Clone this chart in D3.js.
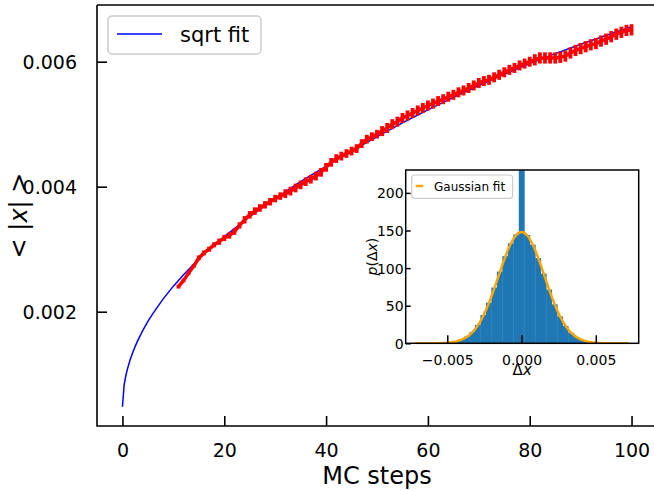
<!DOCTYPE html>
<meta charset="utf-8">
<style>
body { margin: 0; background: #fff; }
text { font-family: "DejaVu Sans", sans-serif; fill: #000; }
</style>
<body>
<script src="https://d3js.org/d3.v7.min.js"></script>
<script>

// ---- main panel data ----
var mcSteps = [11,12,13,14,15,16,17,18,19,20,21,22,23,24,25,26,27,28,29,30,
  31,32,33,34,35,36,37,38,39,40,41,42,43,44,45,46,47,48,49,50,
  51,52,53,54,55,56,57,58,59,60,61,62,63,64,65,66,67,68,69,70,
  71,72,73,74,75,76,77,78,79,80,81,82,83,84,85,86,87,88,89,90,
  91,92,93,94,95,96,97,98,99,100];
var meanAbsX = [0.00240,0.00250,0.00262,0.00273,0.00286,0.00294,0.00300,0.00307,0.00312,0.00318,
  0.00322,0.00328,0.00338,0.00347,0.00355,0.00361,0.00366,0.00371,0.00376,0.00381,
  0.00385,0.00389,0.00393,0.00398,0.00403,0.00408,0.00412,0.00417,0.00423,0.00431,
  0.00439,0.00445,0.00449,0.00453,0.00457,0.00461,0.00469,0.00476,0.00480,0.00484,
  0.00489,0.00494,0.00500,0.00504,0.00510,0.00514,0.00518,0.00522,0.00526,0.00530,
  0.00533,0.00537,0.00540,0.00544,0.00547,0.00551,0.00554,0.00558,0.00562,0.00566,
  0.00569,0.00571,0.00575,0.00579,0.00583,0.00587,0.00590,0.00594,0.00597,0.00600,
  0.00603,0.00606,0.00606,0.00606,0.00606,0.00607,0.00609,0.00614,0.00618,0.00621,
  0.00624,0.00627,0.00629,0.00633,0.00636,0.00640,0.00644,0.00647,0.00650,0.00651];
var meanErr = [0.00003,0.00003,0.00003,0.00003,0.00004,0.00004,0.00004,0.00004,0.00005,0.00005,
  0.00005,0.00005,0.00005,0.00006,0.00006,0.00006,0.00006,0.00006,0.00006,0.00006,
  0.00006,0.00007,0.00007,0.00007,0.00007,0.00007,0.00007,0.00007,0.00007,0.00007,
  0.00007,0.00007,0.00007,0.00007,0.00007,0.00007,0.00007,0.00007,0.00007,0.00007,
  0.00008,0.00008,0.00008,0.00008,0.00008,0.00008,0.00008,0.00008,0.00008,0.00008,
  0.00008,0.00008,0.00008,0.00008,0.00008,0.00008,0.00008,0.00008,0.00008,0.00008,
  0.00008,0.00008,0.00008,0.00008,0.00008,0.00008,0.00008,0.00008,0.00008,0.00008,
  0.00009,0.00009,0.00009,0.00009,0.00009,0.00009,0.00009,0.00009,0.00009,0.00009,
  0.00009,0.00009,0.00009,0.00009,0.00009,0.00009,0.00009,0.00009,0.00009,0.00009];

// sqrt fit curve
var fitT = [0,0.33,0.67,1,1.5,2,2.5,3,4,5,6,8,10,12,14,16,18,20,25,30,35,40,45,50,55,60,65,70,75,80,85,90,95,100];
var fitY = [0.00048,0.00083,0.000979,0.00109,0.001227,0.001343,0.001445,0.001537,0.0017,0.001844,
  0.001974,0.002205,0.002409,0.00259,0.00276,0.00292,0.00306,0.0032,0.00352,0.00381,
  0.00408,0.00433,0.00457,0.0048,0.00502,0.00523,0.00543,0.00562,0.0058,0.00597,
  0.00613,0.00628,0.00642,0.00656];

var xTicks = [0, 20, 40, 60, 80, 100];
var yTicks = [0.002, 0.004, 0.006];

// ---- inset data ----
var histRange = [-0.0072, 0.0072];
var histCounts = [0,0,0.05,0.1,0.3,0.7,1.3,2.6,4.9,8.9,15.1,24.4,37.5,54.0,74.1,95.4,115.8,132.9,144.6,
  280,
  144.0,131.2,113.4,92.6,71.4,51.8,35.6,23.0,14.1,8.1,4.4,2.3,1.1,0.5,0.2,0.1,0.03,0,0];
var gaussX = [-0.0072,-0.0068,-0.0064,-0.006,-0.0056,-0.0052,-0.0048,-0.0044,-0.004,-0.0036,
  -0.0032,-0.0028,-0.0024,-0.002,-0.0016,-0.0012,-0.0008,-0.0004,0,
  0.0004,0.0008,0.0012,0.0016,0.002,0.0024,0.0028,0.0032,0.0036,0.004,
  0.0044,0.0048,0.0052,0.0056,0.006,0.0064,0.0068,0.0072];
var gaussY = [0,0.01,0.02,0.07,0.2,0.49,1.15,2.5,5.1,9.6,17.1,28.3,43.9,63.7,86.3,109.3,129.3,143.1,148,
  143.1,129.3,109.3,86.3,63.7,43.9,28.3,17.1,9.6,5.1,2.5,1.15,0.49,0.2,0.07,0.02,0.01,0];
var insetXTicks = [-0.005, 0, 0.005];
var insetYTicks = [0, 50, 100, 150, 200];

var W = 654, H = 491;
var svg = d3.select("body").append("svg")
    .attr("width", W).attr("height", H);
var defs = svg.append("defs");

// main axes box (right spine falls just outside the window)
var mL = 97, mR = 657, mT = 5, mB = 426;
var x = d3.scaleLinear().domain([-5, 105]).range([mL, mR]);
var y = d3.scaleLinear().domain([0.004, 0.006]).range([186.7, 61.7]);

defs.append("clipPath").attr("id", "mainclip")
  .append("rect").attr("x", mL).attr("y", mT).attr("width", mR - mL).attr("height", mB - mT);

var plot = svg.append("g").attr("clip-path", "url(#mainclip)");

// fit line
plot.append("path")
    .datum(fitT.map(function(t, i) { return [t, fitY[i]]; }))
    .attr("fill", "none").attr("stroke", "#0000ff").attr("stroke-width", 1.5)
    .attr("d", d3.line().x(function(d) { return x(d[0]); }).y(function(d) { return y(d[1]); }));

// data with error bars
var pts = mcSteps.map(function(t, i) { return {t: t, v: meanAbsX[i], e: meanErr[i]}; });
plot.append("path")
    .datum(pts)
    .attr("fill", "none").attr("stroke", "#ff0000").attr("stroke-width", 3.5)
    .attr("stroke-linejoin", "round")
    .attr("d", d3.line().x(function(d) { return x(d.t); }).y(function(d) { return y(d.v); }));
plot.selectAll(".eb").data(pts).enter().append("line")
    .attr("class", "eb")
    .attr("x1", function(d) { return x(d.t); }).attr("x2", function(d) { return x(d.t); })
    .attr("y1", function(d) { return y(d.v - d.e); }).attr("y2", function(d) { return y(d.v + d.e); })
    .attr("stroke", "#ff0000").attr("stroke-width", 3.8);

// main axes
var gx = svg.append("g").attr("transform", "translate(0," + mB + ")")
    .call(d3.axisBottom(x).tickValues(xTicks).tickSizeInner(-10).tickSizeOuter(0).tickPadding(18));
var gy = svg.append("g").attr("transform", "translate(" + mL + ",0)")
    .call(d3.axisLeft(y).tickValues(yTicks).tickFormat(d3.format(".3f")).tickSizeInner(-10).tickSizeOuter(0).tickPadding(20));
[gx, gy].forEach(function(g) {
  g.select(".domain").remove();
  g.selectAll(".tick line").attr("stroke", "#000").attr("stroke-width", 1.6);
  g.selectAll(".tick text").attr("font-size", 19).attr("font-family", "DejaVu Sans").attr("fill", "#000");
});
gy.selectAll(".tick text").attr("dy", "0.36em");

// spines
svg.append("path")
    .attr("d", "M" + mL + "," + mT + "H" + mR + "M" + mL + "," + mT + "V" + mB + "H" + mR)
    .attr("fill", "none").attr("stroke", "#000").attr("stroke-width", 1.6);

// axis labels
svg.append("text").attr("x", (mL + mR) / 2).attr("y", 484)
    .attr("text-anchor", "middle").attr("font-size", 24).text("MC steps");
var yl = svg.append("text").attr("transform", "translate(27,215.5) rotate(-90)")
    .attr("text-anchor", "middle").attr("font-size", 24);
yl.append("tspan").text("< |");
yl.append("tspan").attr("font-style", "italic").text("x");
yl.append("tspan").text("| >");

// main legend
svg.append("rect").attr("x", 108).attr("y", 16).attr("width", 153).attr("height", 38)
    .attr("rx", 4).attr("fill", "#fff").attr("stroke", "#cccccc").attr("stroke-width", 1.5);
svg.append("line").attr("x1", 117).attr("x2", 162).attr("y1", 34).attr("y2", 34)
    .attr("stroke", "#0000ff").attr("stroke-width", 1.5);
svg.append("text").attr("x", 180).attr("y", 42).attr("font-size", 21).text("sqrt fit");

// ---- inset ----
var iL = 405.7, iR = 638.7, iT = 170, iB = 343.3;
var ix = d3.scaleLinear().domain([-0.0078, 0.00789]).range([iL, iR]);
var iy = d3.scaleLinear().domain([0, 50]).range([iB, 305.7]);

svg.append("rect").attr("x", iL).attr("y", iT).attr("width", iR - iL).attr("height", iB - iT).attr("fill", "#fff");
defs.append("clipPath").attr("id", "insetclip")
  .append("rect").attr("x", iL).attr("y", iT).attr("width", iR - iL).attr("height", iB - iT);
var inset = svg.append("g").attr("clip-path", "url(#insetclip)");

var binW = (histRange[1] - histRange[0]) / histCounts.length;
inset.selectAll(".bin").data(histCounts).enter().append("rect")
    .attr("class", "bin")
    .attr("x", function(d, i) { return ix(histRange[0] + i * binW); })
    .attr("width", ix(binW) - ix(0) + 0.4)
    .attr("y", function(d) { return iy(d); })
    .attr("height", function(d) { return iB - iy(d); })
    .attr("fill", "#1f77b4");

inset.append("path")
    .datum(gaussX.map(function(v, i) { return [v, gaussY[i]]; }))
    .attr("fill", "none").attr("stroke", "orange").attr("stroke-width", 2.5)
    .attr("d", d3.line().curve(d3.curveMonotoneX)
      .x(function(d) { return ix(d[0]); }).y(function(d) { return iy(d[1]); }));

var fmt = function(d) { return d === 0 ? "0.000" : (d < 0 ? "\u2212" : "") + Math.abs(d).toFixed(3); };
var igx = svg.append("g").attr("transform", "translate(0," + iB + ")")
    .call(d3.axisBottom(ix).tickValues(insetXTicks).tickFormat(fmt).tickSizeInner(-8).tickSizeOuter(0).tickPadding(12));
var igy = svg.append("g").attr("transform", "translate(" + iL + ",0)")
    .call(d3.axisLeft(iy).tickValues(insetYTicks).tickSizeInner(-5).tickSizeOuter(0).tickPadding(2));
[igx, igy].forEach(function(g) {
  g.select(".domain").remove();
  g.selectAll(".tick line").attr("stroke", "#000").attr("stroke-width", 1.5);
  g.selectAll(".tick text").attr("font-size", 14).attr("font-family", "DejaVu Sans").attr("fill", "#000");
});
igy.selectAll(".tick text").attr("dy", "0.36em");

svg.append("rect").attr("x", iL).attr("y", iT).attr("width", iR - iL).attr("height", iB - iT)
    .attr("fill", "none").attr("stroke", "#000").attr("stroke-width", 1.5);

var ixl = svg.append("text").attr("x", (iL + iR) / 2).attr("y", 375)
    .attr("text-anchor", "middle").attr("font-size", 15);
ixl.append("tspan").text("\u0394");
ixl.append("tspan").attr("font-style", "italic").text("x");

var iyl = svg.append("text").attr("transform", "translate(377,256.6) rotate(-90)")
    .attr("text-anchor", "middle").attr("font-size", 14);
iyl.append("tspan").attr("font-style", "italic").text("p");
iyl.append("tspan").text("(\u0394");
iyl.append("tspan").attr("font-style", "italic").text("x");
iyl.append("tspan").text(")");

// inset legend
svg.append("rect").attr("x", 411.7).attr("y", 175).attr("width", 101).attr("height", 23.3)
    .attr("rx", 3).attr("fill", "#fff").attr("stroke", "#cccccc").attr("stroke-width", 1.2);
svg.append("line").attr("x1", 415.7).attr("x2", 423.3).attr("y1", 186).attr("y2", 186)
    .attr("stroke", "orange").attr("stroke-width", 2.5);
svg.append("text").attr("x", 434).attr("y", 190.5).attr("font-size", 12).text("Gaussian fit");

</script>
</body>
